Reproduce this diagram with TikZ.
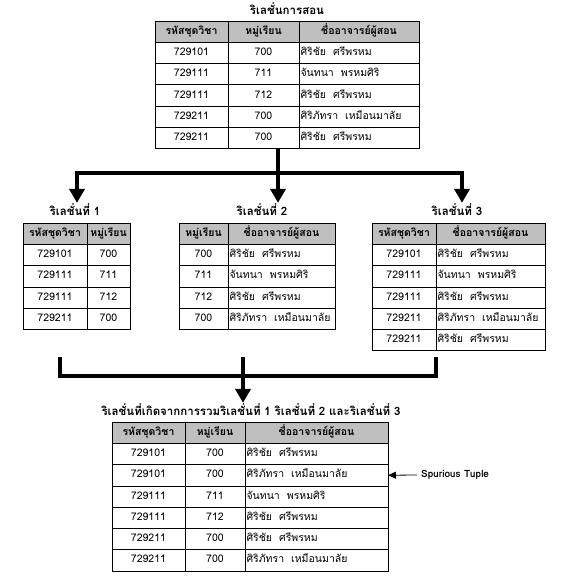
\documentclass[tikz,border=0pt]{standalone}
\usepackage{fontspec}
\setmainfont[Script=Thai]{Loma}
\usetikzlibrary{arrows.meta, positioning}

\begin{document}
\begin{tikzpicture}[
    x=1pt, y=-1pt,
    cell/.style={draw, line width=0.8pt, outer sep=0pt, inner sep=0pt,
                 minimum height=21.3pt, text height=7.5pt, text depth=2.5pt,
                 anchor=north west, font=\fontsize{10.5}{12}\selectfont},
    head/.style={cell, fill=gray!50, font=\fontsize{10.5}{12}\selectfont\bfseries},
    namecell/.style={cell, align=left, inner xsep=1.5pt},
    title/.style={inner sep=1pt, font=\fontsize{11.5}{13}\selectfont\bfseries},
    bar/.style={line width=4pt},
    flow/.style={line width=4pt, -{Triangle[width=15pt, length=14pt]}},
    note/.style={line width=0.8pt, -{Triangle[width=7pt, length=8pt]}},
]
\useasboundingbox (0,0) rectangle (577,580);

% relation before decomposition
\node[title] (teach) at (287,9) {ริเลชั่นการสอน};
\node[head, minimum width=73pt] (tab-0-1) at (155,21) {รหัสชุดวิชา};
\node[head, minimum width=71pt] (tab-0-2) at (228,21) {หมู่เรียน};
\node[head, minimum width=120pt] (tab-0-3) at (299,21) {ชื่ออาจารย์ผู้สอน};
\foreach \subj/\grp/\teacher [count=\i] in {
    729101/700/ศิริชัย~~ศรีพรหม,
    729111/711/จันทนา~~พรหมศิริ,
    729111/712/ศิริชัย~~ศรีพรหม,
    729211/700/ศิริภัทรา~~เหมือนมาลัย,
    729211/700/ศิริชัย~~ศรีพรหม} {
  \node[cell, minimum width=73pt] (tab-\i-1) at (155,{21+21.3*\i}) {\subj};
  \node[cell, minimum width=71pt] (tab-\i-2) at (228,{21+21.3*\i}) {\grp};
  \node[namecell, text width=117pt] (tab-\i-3) at (299,{21+21.3*\i}) {\teacher};
}

% relation 1
\node[title] (rel1) at (75,210) {ริเลชั่นที่ 1};
\node[head, minimum width=64pt] (one-0-1) at (23,223) {รหัสชุดวิชา};
\node[head, minimum width=43pt] (one-0-2) at (87,223) {หมู่เรียน};
\foreach \subj/\grp [count=\i] in {729101/700, 729111/711, 729111/712, 729211/700} {
  \node[cell, minimum width=64pt] (one-\i-1) at (23,{223+21.3*\i}) {\subj};
  \node[cell, minimum width=43pt] (one-\i-2) at (87,{223+21.3*\i}) {\grp};
}

% relation 2
\node[title] (rel2) at (262,210) {ริเลชั่นที่ 2};
\node[head, minimum width=49pt] (two-0-1) at (179,223) {หมู่เรียน};
\node[head, minimum width=107pt] (two-0-2) at (228,223) {ชื่ออาจารย์ผู้สอน};
\foreach \grp/\teacher [count=\i] in {
    700/ศิริชัย~~ศรีพรหม,
    711/จันทนา~~พรหมศิริ,
    712/ศิริชัย~~ศรีพรหม,
    700/ศิริภัทรา~~เหมือนมาลัย} {
  \node[cell, minimum width=49pt] (two-\i-1) at (179,{223+21.3*\i}) {\grp};
  \node[namecell, text width=104pt] (two-\i-2) at (228,{223+21.3*\i}) {\teacher};
}

% relation 3
\node[title] (rel3) at (457,210) {ริเลชั่นที่ 3};
\node[head, minimum width=64pt] (three-0-1) at (372,223) {รหัสชุดวิชา};
\node[head, minimum width=109pt] (three-0-2) at (436,223) {ชื่ออาจารย์ผู้สอน};
\foreach \subj/\teacher [count=\i] in {
    729101/ศิริชัย~~ศรีพรหม,
    729111/จันทนา~~พรหมศิริ,
    729111/ศิริชัย~~ศรีพรหม,
    729211/ศิริภัทรา~~เหมือนมาลัย,
    729211/ศิริชัย~~ศรีพรหม} {
  \node[cell, minimum width=64pt] (three-\i-1) at (372,{223+21.3*\i}) {\subj};
  \node[namecell, text width=106pt] (three-\i-2) at (436,{223+21.3*\i}) {\teacher};
}

% joined result
\node[title] (res) at (251,410) {ริเลชั่นที่เกิดจากการรวมริเลชั่นที่ 1 ริเลชั่นที่ 2 และริเลชั่นที่ 3};
\node[head, minimum width=73pt] (res-0-1) at (112,422) {รหัสชุดวิชา};
\node[head, minimum width=60pt] (res-0-2) at (185,422) {หมู่เรียน};
\node[head, minimum width=143pt] (res-0-3) at (245,422) {ชื่ออาจารย์ผู้สอน};
\foreach \subj/\grp/\teacher [count=\i] in {
    729101/700/ศิริชัย~~ศรีพรหม,
    729101/700/ศิริภัทรา~~เหมือนมาลัย,
    729111/711/จันทนา~~พรหมศิริ,
    729111/712/ศิริชัย~~ศรีพรหม,
    729211/700/ศิริชัย~~ศรีพรหม,
    729211/700/ศิริภัทรา~~เหมือนมาลัย} {
  \node[cell, minimum width=73pt] (res-\i-1) at (112,{422+21.3*\i}) {\subj};
  \node[cell, minimum width=60pt] (res-\i-2) at (185,{422+21.3*\i}) {\grp};
  \node[namecell, text width=140pt] (res-\i-3) at (245,{422+21.3*\i}) {\teacher};
}

\node[anchor=west, inner xsep=4pt, inner ysep=1pt,
      font=\fontsize{10}{12}\selectfont\bfseries] (spur) at (417,475) {Spurious Tuple};

% split into three
\coordinate (split) at (278,173);
\coordinate (fork1) at (77,173);
\coordinate (fork3) at (462,173);
\draw[bar] (tab-5-2.south -| split) -- (split);
\draw[bar, line cap=rect] (fork1) -- (fork3);
\draw[flow] (fork1) -- (fork1 |- rel1.north);
\draw[flow] (split) -- (split |- rel2.north);
\draw[flow] (fork3) -- (fork3 |- rel3.north);

% join back
\coordinate (out1) at (60,357);
\coordinate (out2) at (243,357);
\coordinate (out3) at (436,357);
\coordinate (join1) at (60,376);
\coordinate (join3) at (436,376);
\draw[bar] (out1) -- (join1) -- (join3) -- (out3);
\draw[flow] (out2) -- (out2 |- res.north);

\draw[note] (spur.west) -- (res-2-3.east);
\end{tikzpicture}
\end{document}
